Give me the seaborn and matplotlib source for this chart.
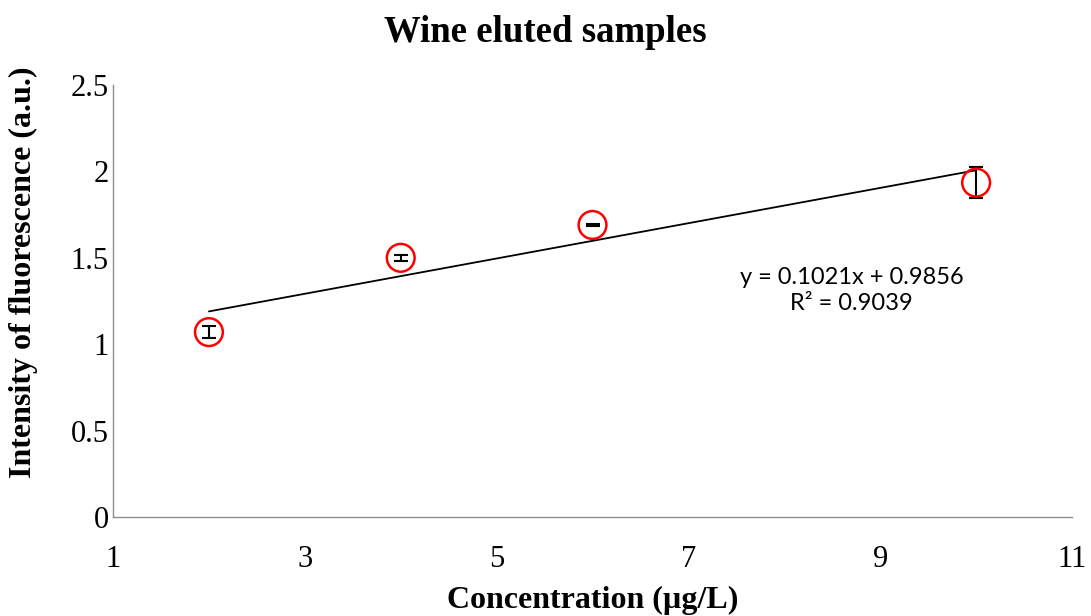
import numpy as np
import pandas as pd
import matplotlib
matplotlib.use("Agg")
import matplotlib.pyplot as plt
import seaborn as sns

# Measured fluorescence of wine eluted samples
concentration = [2, 4, 6, 10]
intensity = [1.07, 1.50, 1.69, 1.935]
intensity_err = [0.035, 0.017, 0.008, 0.09]

# Linear trend reported for the series
slope = 0.1021
intercept = 0.9856
r_squared = 0.9039

x_ticks = [1, 3, 5, 7, 9, 11]
y_ticks = [0, 0.5, 1, 1.5, 2, 2.5]

sns.set_theme(style="white")
plt.rcParams["font.family"] = ["Liberation Serif", "DejaVu Serif"]
plt.rcParams["text.color"] = "black"
plt.rcParams["axes.labelcolor"] = "black"

df = pd.DataFrame({"conc": concentration, "intensity": intensity, "err": intensity_err})
trend = pd.DataFrame({"conc": [min(concentration), max(concentration)]})
trend["fit"] = slope * trend["conc"] + intercept

fig = plt.figure(figsize=(10.91, 6.16), dpi=100)
ax = fig.add_axes([0.1036, 0.1607, 0.879, 0.7013])

sns.lineplot(data=trend, x="conc", y="fit", color="black", linewidth=1.3, ax=ax, zorder=2)
ax.errorbar(df["conc"], df["intensity"], yerr=df["err"], fmt="none",
            ecolor="black", elinewidth=1.5, capsize=5, capthick=1.5, zorder=3)
sns.scatterplot(data=df, x="conc", y="intensity", s=400, marker="o",
                facecolor="none", edgecolor="red", linewidth=1.8, ax=ax, zorder=4)

ax.set_xlim(1, 11)
ax.set_ylim(0, 2.5)
ax.set_xticks(x_ticks)
ax.set_yticks(y_ticks)
ax.set_xticklabels([f"{v:g}" for v in x_ticks])
ax.set_yticklabels([f"{v:g}" for v in y_ticks])
ax.tick_params(axis="both", length=0, labelsize=22, colors="black")
ax.tick_params(axis="x", pad=20)
ax.tick_params(axis="y", pad=3)

for side in ["top", "right"]:
    ax.spines[side].set_visible(False)
for side in ["left", "bottom"]:
    ax.spines[side].set_color("#8c8c8c")
    ax.spines[side].set_linewidth(1.0)

ax.set_xlabel("Concentration (\u00b5g/L)", fontsize=23, fontweight="bold", labelpad=9)
ax.set_ylabel("Intensity of fluorescence (a.u.)", fontsize=23, fontweight="bold")
ax.yaxis.set_label_coords(-0.078, 0.567)
fig.suptitle("Wine eluted samples", fontsize=26.5, fontweight="bold", x=0.5, y=0.948, va="center")

ax.text(8.70, 1.31, f"y = {slope}x + {intercept}\nR\u00b2 = {r_squared}",
        ha="center", va="center", fontsize=17, linespacing=1.32,
        family=["Lato", "DejaVu Sans"])

fig.savefig("out.png", dpi=100)
